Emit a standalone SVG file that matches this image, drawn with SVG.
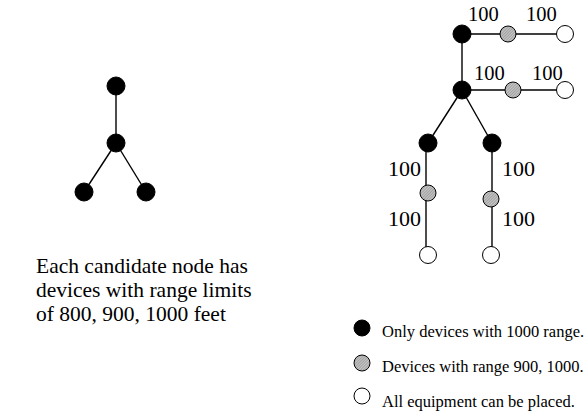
<svg xmlns="http://www.w3.org/2000/svg" width="587" height="419" viewBox="0 0 587 419">
  <defs>
    <pattern id="hatch" width="2" height="2" patternUnits="userSpaceOnUse" patternTransform="rotate(45)">
      <rect width="2" height="2" fill="#c8c8c8"/>
      <line x1="0" y1="0" x2="0" y2="2" stroke="#787878" stroke-width="1"/>
    </pattern>
  </defs>
  <style>
    .edge { stroke: #000; stroke-width: 1.4; fill: none; }
    .black { fill: #000; stroke: #000; stroke-width: 1; }
    .grey { fill: url(#hatch); stroke: #000; stroke-width: 1; }
    .white { fill: #fff; stroke: #000; stroke-width: 1; }
    text { font-family: 'Liberation Serif', 'Times New Roman', Times, serif; fill: #000; }
    .lbl { font-size: 20.5px; }
    .lbl2 { font-size: 22px; }
    .txt { font-size: 21.5px; }
    .leg { font-size: 16.5px; }
  </style>
  <rect width="587" height="419" fill="#fff"/>

  <!-- connectors -->
  <g id="connectors">
    <line class="edge" x1="116" y1="86" x2="116" y2="143"/>
    <line class="edge" x1="116" y1="143" x2="84" y2="192"/>
    <line class="edge" x1="116" y1="143" x2="146" y2="192"/>

    <line class="edge" x1="462" y1="34" x2="462" y2="90"/>
    <line class="edge" x1="462" y1="34" x2="565" y2="34"/>
    <line class="edge" x1="462" y1="90" x2="565" y2="90"/>
    <line class="edge" x1="462" y1="90" x2="428" y2="143"/>
    <line class="edge" x1="462" y1="90" x2="492" y2="143"/>
    <line class="edge" x1="426" y1="143" x2="426" y2="255"/>
    <line class="edge" x1="492" y1="143" x2="492" y2="255"/>
  </g>

  <!-- candidate node tree -->
  <g id="l-top"><circle class="black" cx="116" cy="86" r="9"/></g>
  <g id="l-mid"><circle class="black" cx="116" cy="143" r="9"/></g>
  <g id="l-left"><circle class="black" cx="84" cy="192" r="9"/></g>
  <g id="l-right"><circle class="black" cx="146" cy="192" r="9"/></g>

  <g id="caption">
    <text class="txt" x="36" y="273">Each candidate node has</text>
    <text class="txt" x="36" y="297">devices with range limits</text>
    <text class="txt" x="36" y="321">of 800, 900, 1000 feet</text>
  </g>

  <!-- placement tree -->
  <g id="r-top"><circle class="black" cx="462" cy="34" r="9"/></g>
  <g id="r-top-g"><circle class="grey" cx="508" cy="34" r="8"/></g>
  <g id="r-top-w"><circle class="white" cx="565" cy="34" r="8.5"/></g>
  <g id="r-mid"><circle class="black" cx="462" cy="90" r="9"/></g>
  <g id="r-mid-g"><circle class="grey" cx="513" cy="90" r="8"/></g>
  <g id="r-mid-w"><circle class="white" cx="565" cy="90" r="8.5"/></g>
  <g id="r-left"><circle class="black" cx="428" cy="143" r="9"/></g>
  <g id="r-left-g"><circle class="grey" cx="428" cy="193" r="8"/></g>
  <g id="r-left-w"><circle class="white" cx="428" cy="255" r="8.5"/></g>
  <g id="r-right"><circle class="black" cx="492" cy="143" r="9"/></g>
  <g id="r-right-g"><circle class="grey" cx="491" cy="199" r="8"/></g>
  <g id="r-right-w"><circle class="white" cx="491" cy="255" r="8.5"/></g>

  <g id="distances">
    <text class="lbl" x="468" y="21">100</text>
    <text class="lbl" x="526" y="21">100</text>
    <text class="lbl" x="474" y="80">100</text>
    <text class="lbl" x="532" y="80">100</text>
    <text class="lbl2" x="388" y="176">100</text>
    <text class="lbl2" x="388" y="226">100</text>
    <text class="lbl2" x="502" y="176">100</text>
    <text class="lbl2" x="502" y="226">100</text>
  </g>

  <!-- legend -->
  <g id="legend">
    <circle class="black" cx="362" cy="328" r="8"/>
    <text class="leg" x="382" y="337">Only devices with 1000 range.</text>
    <circle class="grey" cx="362" cy="363" r="8"/>
    <text class="leg" x="382" y="372">Devices with range 900, 1000.</text>
    <circle class="white" cx="362" cy="396" r="8"/>
    <text class="leg" x="382" y="407">All equipment can be placed.</text>
  </g>
</svg>
